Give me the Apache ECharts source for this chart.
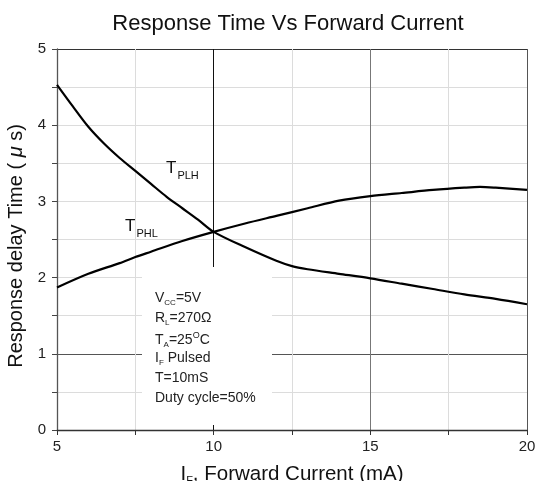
<!DOCTYPE html>
<html><head><meta charset="utf-8">
<script src="https://cdn.jsdelivr.net/npm/echarts@6/dist/echarts.min.js"></script>
<style>html,body{margin:0;padding:0;background:#fff}#c{width:535px;height:481px}</style>
</head><body><div id="c"></div>
<script>
// Data
var tplhX = [5, 5.5, 6, 6.5, 7, 7.5, 8, 8.5, 9, 9.5, 10, 11, 12, 12.5, 13, 14, 15, 16, 17, 18, 19, 20];
var tplhY = [4.53, 4.25, 3.98, 3.76, 3.57, 3.40, 3.23, 3.06, 2.91, 2.76, 2.60, 2.40, 2.22, 2.15, 2.11, 2.05, 1.99, 1.92, 1.85, 1.78, 1.72, 1.65];
var tphlX = [5, 6, 7, 7.5, 8, 9, 10, 11, 12, 13, 14, 15, 16, 17, 18, 18.5, 19, 20];
var tphlY = [1.87, 2.05, 2.19, 2.27, 2.34, 2.48, 2.60, 2.71, 2.81, 2.91, 3.01, 3.07, 3.11, 3.15, 3.18, 3.19, 3.18, 3.15];
var xTickLabels = [5, 10, 15, 20];
var yTickLabels = [0, 1, 2, 3, 4, 5];
var conditions = ['V{sub|CC}=5V', 'R{sub|L}=270Ω', 'T{sub|A}=25{sup|O}C', 'I{sub|F} Pulsed', 'T=10mS', 'Duty cycle=50%'];

function pairs(xs, ys) { return xs.map(function (x, i) { return [x, ys[i]]; }); }

var FONT = '"Liberation Sans", Arial, sans-serif';
var chart = echarts.init(document.getElementById('c'), null, { renderer: 'canvas' });

var light = '#dcdcdc';
var option = {
  backgroundColor: '#fff',
  animation: false,
  title: {
    text: 'Response Time Vs Forward Current',
    left: 283, top: 8, textAlign: 'center',
    textStyle: { fontFamily: FONT, fontSize: 22, fontWeight: 'normal', color: '#111' }
  },
  grid: { left: 57, right: 8, top: 49, bottom: 51, containLabel: false, outerBoundsMode: 'none' },
  xAxis: {
    type: 'value', min: 5, max: 20, interval: 2.5,
    name: 'I{sub|F}, Forward Current (mA)', nameLocation: 'middle', nameGap: 32,
    nameTextStyle: { fontFamily: FONT, fontSize: 20.5, color: '#111',
      rich: { sub: { fontFamily: FONT, fontSize: 11, color: '#111', verticalAlign: 'bottom', padding: [13, 0, 0, 0] } } },
    axisLine: { show: true, lineStyle: { color: '#333', width: 1.3 } },
    axisTick: { show: true, inside: false, length: 5, lineStyle: { color: '#333' } },
    axisLabel: { fontFamily: FONT, fontSize: 15, color: '#222', margin: 9,
      formatter: function (v) { return xTickLabels.indexOf(v) >= 0 ? String(v) : ''; } },
    splitLine: { show: true, lineStyle: { width: 1, color: ['#333', light, '#111', light, '#777', light, '#555'] } }
  },
  yAxis: {
    type: 'value', min: 0, max: 5, interval: 0.5,
    name: 'Response delay Time ( {mu|μ} s)', nameLocation: 'middle', nameGap: 27,
    nameTextStyle: { fontFamily: FONT, fontSize: 20, color: '#111', padding: [0, 13, 0, 0],
      rich: { mu: { fontFamily: FONT, fontSize: 20, fontStyle: 'italic', color: '#111' } } },
    axisLine: { show: true, lineStyle: { color: '#555', width: 1.3 } },
    axisTick: { show: true, inside: false, length: 5, lineStyle: { color: '#444' } },
    axisLabel: { fontFamily: FONT, fontSize: 15, color: '#222', margin: 11,
      formatter: function (v) { return yTickLabels.indexOf(v) >= 0 ? String(v) : ''; } },
    splitLine: { show: true, lineStyle: { width: 1, color: ['#333', light, '#555', light, light, light, light, light, light, light, '#333'] } }
  },
  graphic: [
    { type: 'rect', shape: { x: 142, y: 267, width: 130, height: 158 }, style: { fill: '#fff' }, z: 50 }
  ],
  series: [
    { name: 'TPLH', type: 'line', data: pairs(tplhX, tplhY), smooth: 0.3, showSymbol: false, z: 10,
      lineStyle: { color: '#000', width: 2.2 } },
    { name: 'TPHL', type: 'line', data: pairs(tphlX, tphlY), smooth: 0.3, showSymbol: false, z: 10,
      lineStyle: { color: '#000', width: 2.2 } }
  ]
};

// Curve labels
option.graphic.push({ type: 'text', left: 166, top: 160, z: 60,
  style: { text: 'T{sub|PLH}', font: '17px ' + FONT, fill: '#111',
    rich: { sub: { fontFamily: FONT, fontSize: 11, fill: '#111', verticalAlign: 'bottom', padding: [14, 0, 0, 1] } } } });
option.graphic.push({ type: 'text', left: 125, top: 218, z: 60,
  style: { text: 'T{sub|PHL}', font: '17px ' + FONT, fill: '#111',
    rich: { sub: { fontFamily: FONT, fontSize: 11, fill: '#111', verticalAlign: 'bottom', padding: [14, 0, 0, 1] } } } });

// Conditions box
conditions.forEach(function (t, i) {
  option.graphic.push({ type: 'text', left: 155, top: 291 + i * 20, z: 60,
    style: { text: t, font: '14px ' + FONT, fill: '#222',
      rich: {
        sub: { fontFamily: FONT, fontSize: 8, fill: '#222', verticalAlign: 'bottom', padding: [10, 0, 0, 0] },
        sup: { fontFamily: FONT, fontSize: 9, fill: '#222', verticalAlign: 'top', padding: [0, 0, 8, 0] }
      } } });
});

chart.setOption(option);
</script>
</body></html>
